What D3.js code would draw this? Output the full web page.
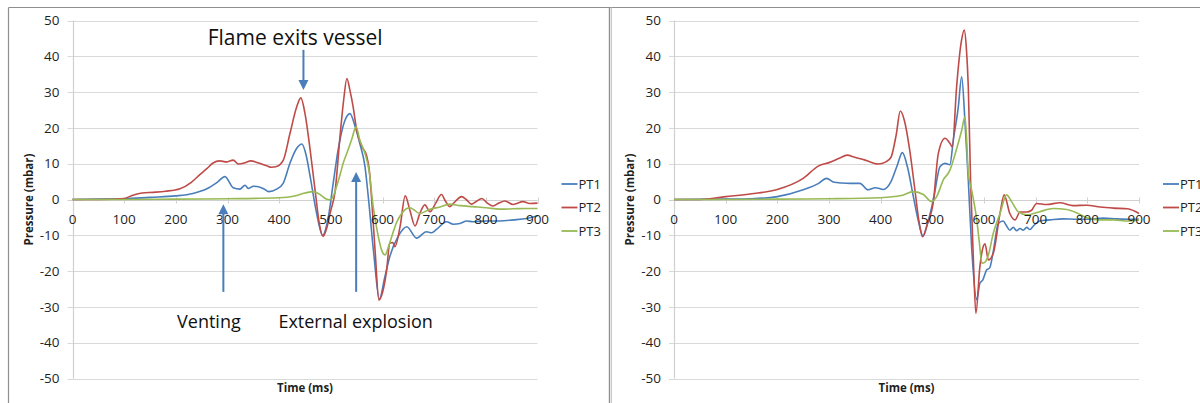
<!DOCTYPE html>
<html><head><meta charset="utf-8">
<script src="https://cdn.jsdelivr.net/npm/d3@7"></script>
<style>body{margin:0;background:#fff}svg{display:block}</style>
</head><body>
<script>
// ---------- DATA ----------
const seriesNames = ["PT1", "PT2", "PT3"];
const xTicks = [0, 100, 200, 300, 400, 500, 600, 700, 800, 900];
const yTicks = [50, 40, 30, 20, 10, 0, -10, -20, -30, -40, -50];

// left chart: [time ms, pressure mbar]
const leftPT1 = [[0,0],[50,0.1],[100,0.2],[150,0.6],[200,1.0],[233,1.7],[260,3.0],[280,4.8],[295,6.4],[311,3.3],[324,2.9],[334,4.0],[340,3.1],[350,3.7],[369,3.1],[380,2.2],[395,2.9],[408,4.6],[421,10.2],[434,14.3],[444,15.5],[452,12.5],[460,6.4],[472,-3.5],[484,-10],[495,-5],[505,5],[514,13.8],[527,22],[537,24],[547,20.4],[556,15.7],[566,9.3],[573,0],[583,-15],[594,-27.8],[604,-22],[614,-16],[630,-10.4],[647,-7.6],[666,-10.8],[685,-9.0],[695,-9.3],[705,-8.3],[724,-6.2],[737,-6.9],[750,-6.7],[763,-6.0],[775,-6.2],[801,-6.0],[827,-6],[853,-5.7],[879,-5.3],[900,-4.6]];
const leftPT2 = [[0,0],[50,0],[100,0.3],[117,1.2],[135,1.8],[156,2.0],[180,2.3],[208,3.0],[230,4.8],[247,7.0],[260,8.6],[272,10.2],[285,10.8],[298,10.5],[311,11.0],[321,9.9],[335,10.3],[345,10.8],[360,10.2],[376,9.4],[385,9.0],[395,9.2],[408,11],[421,18.5],[434,25.9],[442,28.4],[450,24],[460,13.8],[470,2],[478,-7],[485,-10.3],[492,-8],[500,-3],[508,2],[518,18],[525,28],[531,33.8],[537,30.5],[543,26],[550,19.4],[560,14.8],[569,12.4],[575,7.5],[579,0],[586,-15],[593,-28.1],[600,-26],[608,-19.7],[614,-12.2],[620,-12],[624,-13.2],[634,-7.6],[644,1.0],[653,-3],[663,-7.4],[672,-4],[682,-1.5],[692,-3.4],[703,-1],[714,1.4],[722,-0.5],[730,-2.0],[741,-0.5],[753,0.8],[762,0],[772,-1.3],[782,-0.5],[792,0.3],[803,-1],[814,-1.8],[825,-1],[837,-0.4],[853,-1.4],[872,-0.6],[885,-1.1],[900,-1.0]];
const leftPT3 = [[0,0],[100,0],[200,0.1],[300,0.2],[400,0.5],[430,1.0],[450,1.8],[466,2.2],[480,1.3],[490,0.2],[498,-0.1],[505,1.0],[511,3.6],[518,7],[524,10.2],[531,12.9],[540,16.6],[549,20.3],[556,16.6],[566,12.9],[574,8],[582,-2],[590,-9],[598,-14],[605,-15.5],[612,-13],[620,-9.4],[627,-6.5],[634,-4.6],[647,-2.5],[653,-2.3],[660,-2.8],[672,-3.9],[692,-2.7],[711,-2.1],[730,-1.3],[750,-1.7],[775,-2],[801,-2.3],[827,-2.7],[853,-2.6],[879,-2.5],[900,-2.5]];

// right chart
const rightPT1 = [[0,0],[100,0.1],[150,0.2],[200,0.8],[250,2.7],[280,4.5],[295,5.9],[310,4.8],[325,4.6],[340,4.5],[360,4.5],[375,2.7],[390,3.3],[405,2.8],[420,5.0],[432,9.5],[442,13.1],[452,9],[463,1],[473,-6],[482,-10.2],[492,-6],[502,-0.1],[515,9.2],[524.5,10.1],[534,9.7],[540.6,16.6],[550,25.5],[556.8,34.3],[563,22.2],[569.6,5.4],[576,-13.2],[586,-28],[592,-23.4],[597.5,-22.5],[605,-19.7],[611,-19.1],[618,-14.5],[627.6,-6.7],[637,-6],[643.7,-7.4],[650,-8.6],[656.6,-7.8],[663,-8.7],[669.7,-8.1],[676,-8.6],[682.6,-7.8],[689,-8.4],[695.5,-7.4],[708,-6],[727.7,-5.7],[753,-5.4],[779,-5.5],[805,-5.5],[831,-5.2],[857,-5.4],[882.6,-5.5],[900,-5.5]];
const rightPT2 = [[0,0],[50,0],[100,0.8],[150,1.6],[200,2.8],[250,5.9],[280,9.4],[300,10.3],[320,11.5],[335,12.4],[350,11.8],[370,11.0],[395,9.9],[410,10.5],[420,11.8],[430,18],[438,24.7],[446,22],[456,14],[466,3],[474,-6],[481,-10.4],[490,-7],[502,-0.6],[511.6,12.9],[524.5,17.1],[534,15.7],[538.7,14.7],[547,31.5],[556,44],[561.7,47.3],[566,42],[569.6,31.5],[574,5.4],[579,-15],[584.3,-31.8],[592,-18.8],[597,-14],[602,-12.4],[608.4,-16.9],[618,-15],[631,-3.9],[639,1.3],[650,-3.9],[660,-5.7],[669.7,-3.5],[682.6,-3.5],[692,-3],[702,-1.1],[721,-1.4],[747,-0.9],[772.6,-1.7],[799,-1.6],[825,-2.1],[851,-2.4],[878,-2.6],[900,-3.9]];
const rightPT3 = [[0,0],[100,0],[200,0.1],[300,0.2],[400,0.5],[440,1.1],[463,2.2],[482.6,1.4],[498.7,-0.6],[508.4,0.8],[521,5.4],[534,8.2],[540.6,11],[550,15.7],[557,19.4],[563,23.1],[566,18],[569.6,7.3],[576,2.7],[586,-5.7],[591,-12],[596,-17.8],[602,-17.5],[608.4,-15.5],[618,-9.4],[631,-3.9],[643.7,1.3],[653.3,-0.6],[666,-3.4],[682.6,-4.3],[708,-3.4],[734,-2.5],[760,-2.8],[779,-3.7],[799,-5.1],[825,-5.7],[851,-5.7],[878,-6],[900,-5.7]];

// annotations (left chart): label, x(ms), y(mbar), size
const annoTexts = [
  {text: "Flame exits vessel", x: 431, y: 43.2, size: 21},
  {text: "Venting", x: 264, y: -35.9, size: 18},
  {text: "External explosion", x: 548, y: -35.9, size: 18}
];
// arrows: x(ms), from y, to y (tip)
const annoArrows = [
  {x: 447, y0: 41.8, y1: 30.6},
  {x: 292, y0: -25.8, y1: -1.3},
  {x: 549, y0: -25.8, y1: 7.7}
];

const colors = ["#4a7ebb", "#be4b48", "#98b954"];
const FONT = "'Open Sans', sans-serif";

// ---------- DRAW ----------
const W = 1200, H = 403;
const svg = d3.select("body").append("svg").attr("width", W).attr("height", H);

// frames
svg.append("line").attr("x1", 8.5).attr("x2", W).attr("y1", 7.5).attr("y2", 7.5).attr("stroke", "#8f8f8f").attr("stroke-width", 1.2);
svg.append("line").attr("x1", 8.5).attr("x2", 8.5).attr("y1", 7.5).attr("y2", H).attr("stroke", "#8f8f8f").attr("stroke-width", 1.2);
svg.append("line").attr("x1", 609.5).attr("x2", 609.5).attr("y1", 7.5).attr("y2", H).attr("stroke", "#8f8f8f").attr("stroke-width", 1.4);
svg.append("line").attr("x1", 611.5).attr("x2", 611.5).attr("y1", 7.5).attr("y2", H).attr("stroke", "#c8c8c8").attr("stroke-width", 1);

function drawChart(left, series, withAnno) {
  const x = d3.scaleLinear().domain([0, 900]).range([left, left + 465]);
  const y = d3.scaleLinear().domain([-50, 50]).range([378.5, 20.5]);
  const g = svg.append("g");

  // gridlines
  g.selectAll(".grid").data(yTicks.filter(d => d !== 0)).join("line")
    .attr("x1", x(0) - 5).attr("x2", x(900))
    .attr("y1", d => Math.round(y(d)) + 0.5).attr("y2", d => Math.round(y(d)) + 0.5)
    .attr("stroke", "#d9d9d9").attr("stroke-width", 1.2);

  // y axis line
  g.append("line").attr("x1", Math.round(x(0)) + 0.5).attr("x2", Math.round(x(0)) + 0.5)
    .attr("y1", y(50)).attr("y2", y(-50)).attr("stroke", "#d0d0d0").attr("stroke-width", 1.2);
  // x axis (at 0)
  const y0 = Math.round(y(0)) + 0.5;
  g.append("line").attr("x1", x(0) - 5).attr("x2", x(900)).attr("y1", y0).attr("y2", y0)
    .attr("stroke", "#d0d0d0").attr("stroke-width", 1.2);
  g.selectAll(".xt").data(xTicks).join("line")
    .attr("x1", d => Math.round(x(d)) + 0.5).attr("x2", d => Math.round(x(d)) + 0.5)
    .attr("y1", y0 - 3).attr("y2", y0 + 3).attr("stroke", "#d0d0d0").attr("stroke-width", 1);

  // tick labels
  g.selectAll(".yl").data(yTicks).join("text")
    .attr("x", x(0) - 13).attr("y", d => y(d)).attr("dy", "0.35em")
    .attr("text-anchor", "end").attr("font-family", FONT).attr("font-size", 13.5).attr("fill", "#1f1f1f")
    .text(d => d);

  // series lines
  const line = d3.line().x(d => x(d[0])).y(d => y(d[1])).curve(d3.curveMonotoneX);
  series.forEach((s, i) => {
    g.append("path").datum(s).attr("d", line).attr("fill", "none")
      .attr("stroke", colors[i]).attr("stroke-width", 1.6).attr("stroke-linejoin", "round");
  });

  g.selectAll(".xl").data(xTicks).join("text")
    .attr("x", d => x(d)).attr("y", y(0) + 20).attr("dy", "0.35em")
    .attr("text-anchor", "middle").attr("font-family", FONT).attr("font-size", 13.5).attr("fill", "#1f1f1f")
    .text(d => d);

  // axis titles
  g.append("text").attr("transform", `translate(${x(0) - 44},${y(0)}) rotate(-90)`)
    .attr("text-anchor", "middle").attr("dy", "0.35em")
    .attr("font-family", FONT).attr("font-weight", "bold").attr("font-size", 11.5).attr("fill", "#1f1f1f")
    .text("Pressure (mbar)");
  g.append("text").attr("x", x(450)).attr("y", 388).attr("dy", "0.35em")
    .attr("text-anchor", "middle")
    .attr("font-family", FONT).attr("font-weight", "bold").attr("font-size", 11.5).attr("fill", "#1f1f1f")
    .text("Time (ms)");

  // legend
  const lx = x(900) + 24;
  const ly = [184, 207.5, 231];
  seriesNames.forEach((n, i) => {
    g.append("line").attr("x1", lx).attr("x2", lx + 16).attr("y1", ly[i]).attr("y2", ly[i])
      .attr("stroke", colors[i]).attr("stroke-width", 1.8);
    g.append("text").attr("x", lx + 17).attr("y", ly[i]).attr("dy", "0.35em")
      .attr("font-family", FONT).attr("font-size", 13).attr("fill", "#1f1f1f").text(n);
  });

  if (withAnno) {
    annoArrows.forEach(a => {
      const ax = x(a.x), ya = y(a.y0), yb = y(a.y1);
      const dir = yb > ya ? 1 : -1;
      g.append("line").attr("x1", ax).attr("x2", ax).attr("y1", ya).attr("y2", yb - dir * 8)
        .attr("stroke", "#4a7ebb").attr("stroke-width", 2);
      g.append("path")
        .attr("d", `M${ax},${yb} L${ax - 5},${yb - dir * 10} L${ax + 5},${yb - dir * 10} Z`)
        .attr("fill", "#4a7ebb");
    });
    annoTexts.forEach(t => {
      g.append("text").attr("x", x(t.x)).attr("y", y(t.y))
        .attr("text-anchor", "middle").attr("font-family", FONT).attr("font-size", t.size).attr("fill", "#111")
        .text(t.text);
    });
  }
}

drawChart(72.5, [leftPT1, leftPT2, leftPT3], true);
drawChart(674, [rightPT1, rightPT2, rightPT3], false);
</script>
</body></html>
